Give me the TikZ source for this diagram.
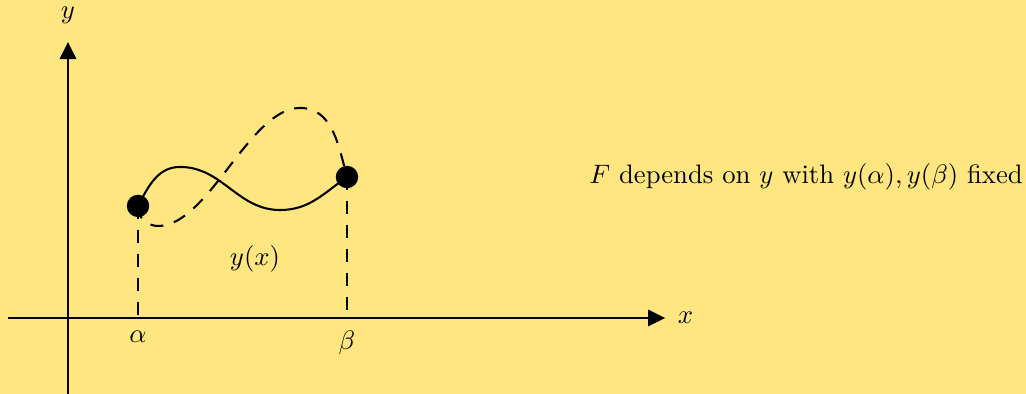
\documentclass[tikz,border=0pt]{standalone}
\usepackage{amsmath,amssymb}
\usepackage{tikz}
\usetikzlibrary{arrows.meta,positioning}
\definecolor{bgyellow}{RGB}{255,230,128}
\begin{document}
\begin{tikzpicture}[x=0.9745cm, y=0.9745cm, >={Triangle[length=2.25mm,width=2.15mm]}, line width=0.78pt,
  dot/.style={circle, fill=black, inner sep=0pt, minimum size=2.95mm},
  guide/.style={dashed, dash pattern=on 4.9pt off 4.1pt},
  every node/.style={align=center}]
\fill[bgyellow] (-0.919,-1.027) rectangle (12.946,4.297);
\useasboundingbox (-0.919,-1.027) rectangle (12.946,4.297);
% axes
\coordinate (xs) at (-0.81,0);
\coordinate (xe) at (8.07,0);
\coordinate (ys) at (0,-1.027);
\coordinate (ye) at (0,3.73);
\draw[->] (xs) -- (xe) node[right=1pt] (xl) {$x$};
\draw[->] (ys) -- (ye) node[above=3pt] (yl) {$y$};
% end points and extremal curves
\coordinate (pa) at (0.946,1.514);
\coordinate (pb) at (3.77,1.905);
\coordinate (ta) at (pa |- xs);
\coordinate (tb) at (pb |- xs);
\draw (pa) to[out=62,in=180] (1.514,2.041) to[out=0,in=180] (2.865,1.459) to[out=0,in=215] (pb);
\draw[guide] (pa) to[out=-95,in=180] (1.216,1.243) to[out=0,in=180,looseness=0.7] (3.135,2.838) to[out=0,in=105] (pb);
\draw[guide] (pa) -- (ta);
\draw[guide] (pb) -- (tb);
\node[dot] (a) at (pa) {};
\node[dot] (b) at (pb) {};
\node[below=1pt of ta] (al) {$\alpha$};
\node[below=1pt of tb] (bl) {$\beta$};
\node (yx) at (2.527,0.797) {$y(x)$};
\node (note) at (9.973,1.905) {$F$ depends on $y$ with $y(\alpha),y(\beta)$ fixed};
\end{tikzpicture}
\end{document}
